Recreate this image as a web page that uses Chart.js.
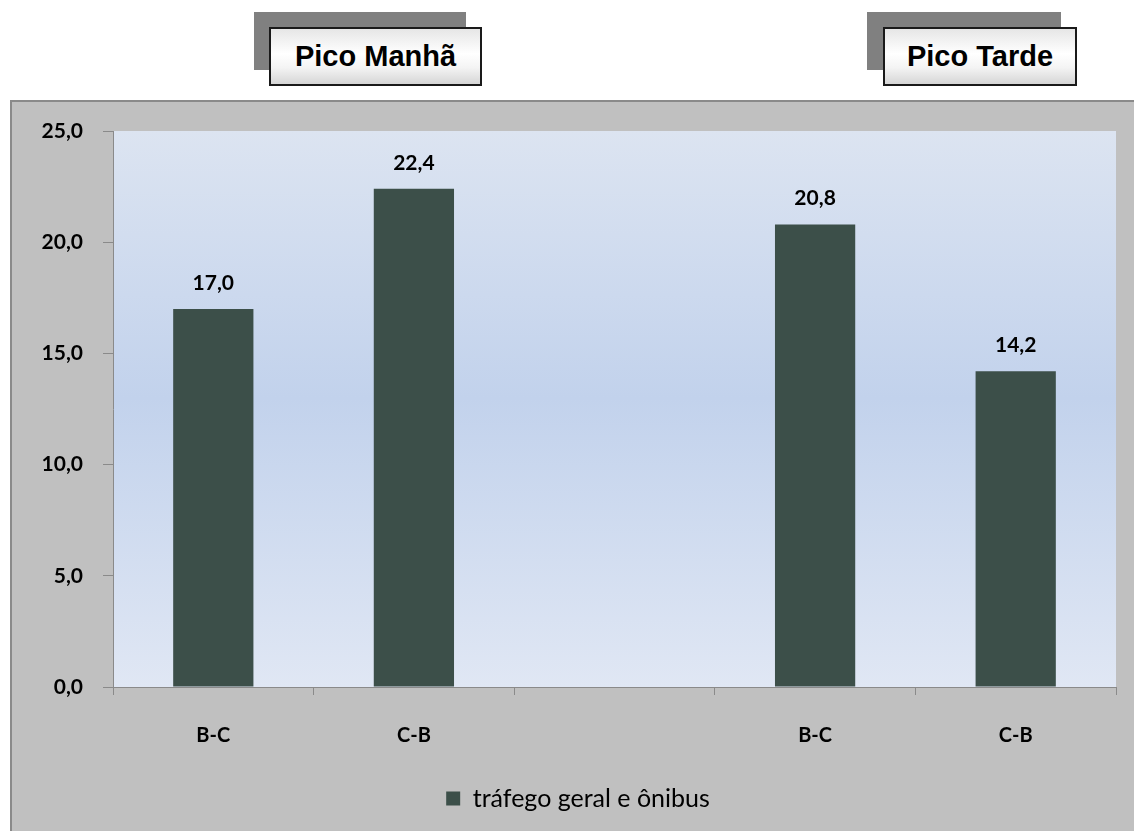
<!DOCTYPE html>
<html>
<head>
<meta charset="utf-8">
<script src="https://cdn.jsdelivr.net/npm/chart.js@4/dist/chart.umd.min.js"></script>
<style>
  html, body { margin: 0; padding: 0; background: #ffffff; width: 1134px; height: 831px; overflow: hidden; position: relative; }
  #panel { position: absolute; left: 10px; top: 100px; width: 1124px; height: 731px; background: #c0c0c0; border-top: 2px solid #8a8a8a; border-left: 2px solid #8a8a8a; box-sizing: border-box; }
  #wrap { position: absolute; left: 0; top: 0; width: 1134px; height: 831px; }
  .shadow { position: absolute; background: #808080; }
  .tbox { position: absolute; box-sizing: border-box; border: 2px solid #1a1a1a;
          background: linear-gradient(to bottom, #e6e6e6 0%, #ffffff 45%, #f4f4f4 70%, #d6d6d6 100%);
          font-family: "Liberation Sans", Arial, sans-serif; font-weight: bold; font-size: 29px; color: #000;
          display: flex; align-items: center; justify-content: center; }
</style>
</head>
<body>
<div id="panel"></div>
<div class="shadow" style="left:254px;top:12px;width:212px;height:58px;"></div>
<div class="tbox" style="left:269px;top:27px;width:213px;height:59px;">Pico Manhã</div>
<div class="shadow" style="left:867px;top:12px;width:194px;height:58px;"></div>
<div class="tbox" style="left:883px;top:27px;width:194px;height:59px;">Pico Tarde</div>
<div id="wrap"><canvas id="c" width="1134" height="831"></canvas></div>
<script>
const categories = ["B-C", "C-B", "", "B-C", "C-B"];
const seriesName = "tráfego geral e ônibus";
const values = [17.0, 22.4, null, 20.8, 14.2];
const yTicks = [0, 5, 10, 15, 20, 25];

const fmt = v => v.toFixed(1).replace('.', ',');
const FONT = "Lato, 'Open Sans', sans-serif";

const bgPlugin = {
  id: 'plotBg',
  beforeDraw(chart) {
    const { ctx, chartArea: a } = chart;
    const g = ctx.createLinearGradient(0, a.top, 0, a.bottom);
    g.addColorStop(0, '#dce4f1');
    g.addColorStop(0.48, '#c2d2ec');
    g.addColorStop(1, '#e0e7f4');
    ctx.save();
    ctx.fillStyle = g;
    ctx.fillRect(a.left, a.top, a.right - a.left, a.bottom - a.top);
    ctx.restore();
  }
};

const legendShift = {
  id: 'legendShift',
  afterLayout(chart) {
    if (chart.legend) { chart.legend.left += 20; chart.legend.right += 20; }
  }
};

const labelPlugin = {
  id: 'valLabels',
  afterDatasetsDraw(chart) {
    const { ctx } = chart;
    const meta = chart.getDatasetMeta(0);
    ctx.save();
    ctx.font = "bold 21px " + FONT;
    ctx.fillStyle = '#000';
    ctx.textAlign = 'center';
    ctx.textBaseline = 'middle';
    meta.data.forEach((bar, i) => {
      const v = chart.data.datasets[0].data[i];
      if (v === null || v === undefined) return;
      ctx.fillText(fmt(v), bar.x, bar.y - 26);
    });
    ctx.restore();
  }
};

new Chart(document.getElementById('c'), {
  type: 'bar',
  data: {
    labels: categories,
    datasets: [{
      label: seriesName,
      data: values,
      backgroundColor: '#3c4f49',
      borderWidth: 0,
      barPercentage: 0.4,
      categoryPercentage: 1.0
    }]
  },
  options: {
    responsive: false,
    animation: false,
    devicePixelRatio: 1,
    layout: { padding: { top: 131, right: 18, bottom: 10, left: 0 } },
    plugins: {
      legend: {
        position: 'bottom',
        labels: {
          font: { family: FONT, size: 25, weight: 'normal' },
          color: '#000',
          boxWidth: 14, boxHeight: 14, padding: 7
        }
      },
      tooltip: { enabled: false }
    },
    scales: {
      x: {
        grid: { drawOnChartArea: false, drawTicks: true, tickLength: 8, color: '#8a8a8a', offset: true },
        border: { display: true, color: '#8a8a8a', width: 1 },
        ticks: { font: { family: FONT, size: 20, weight: 'bold' }, color: '#000', padding: 29, maxRotation: 0 },
        afterFit(s) { s.height = 92; }
      },
      y: {
        min: 0, max: 25,
        afterBuildTicks(s) { s.ticks = yTicks.map(v => ({ value: v })); },
        grid: { drawOnChartArea: false, drawTicks: true, tickLength: 10, color: '#8a8a8a' },
        border: { display: true, color: '#8a8a8a', width: 1 },
        ticks: { font: { family: FONT, size: 21, weight: 'bold' }, color: '#000', padding: 20, callback: v => fmt(v) },
        afterFit(s) { s.width = 113; }
      }
    }
  },
  plugins: [bgPlugin, labelPlugin, legendShift]
});
</script>
</body>
</html>
